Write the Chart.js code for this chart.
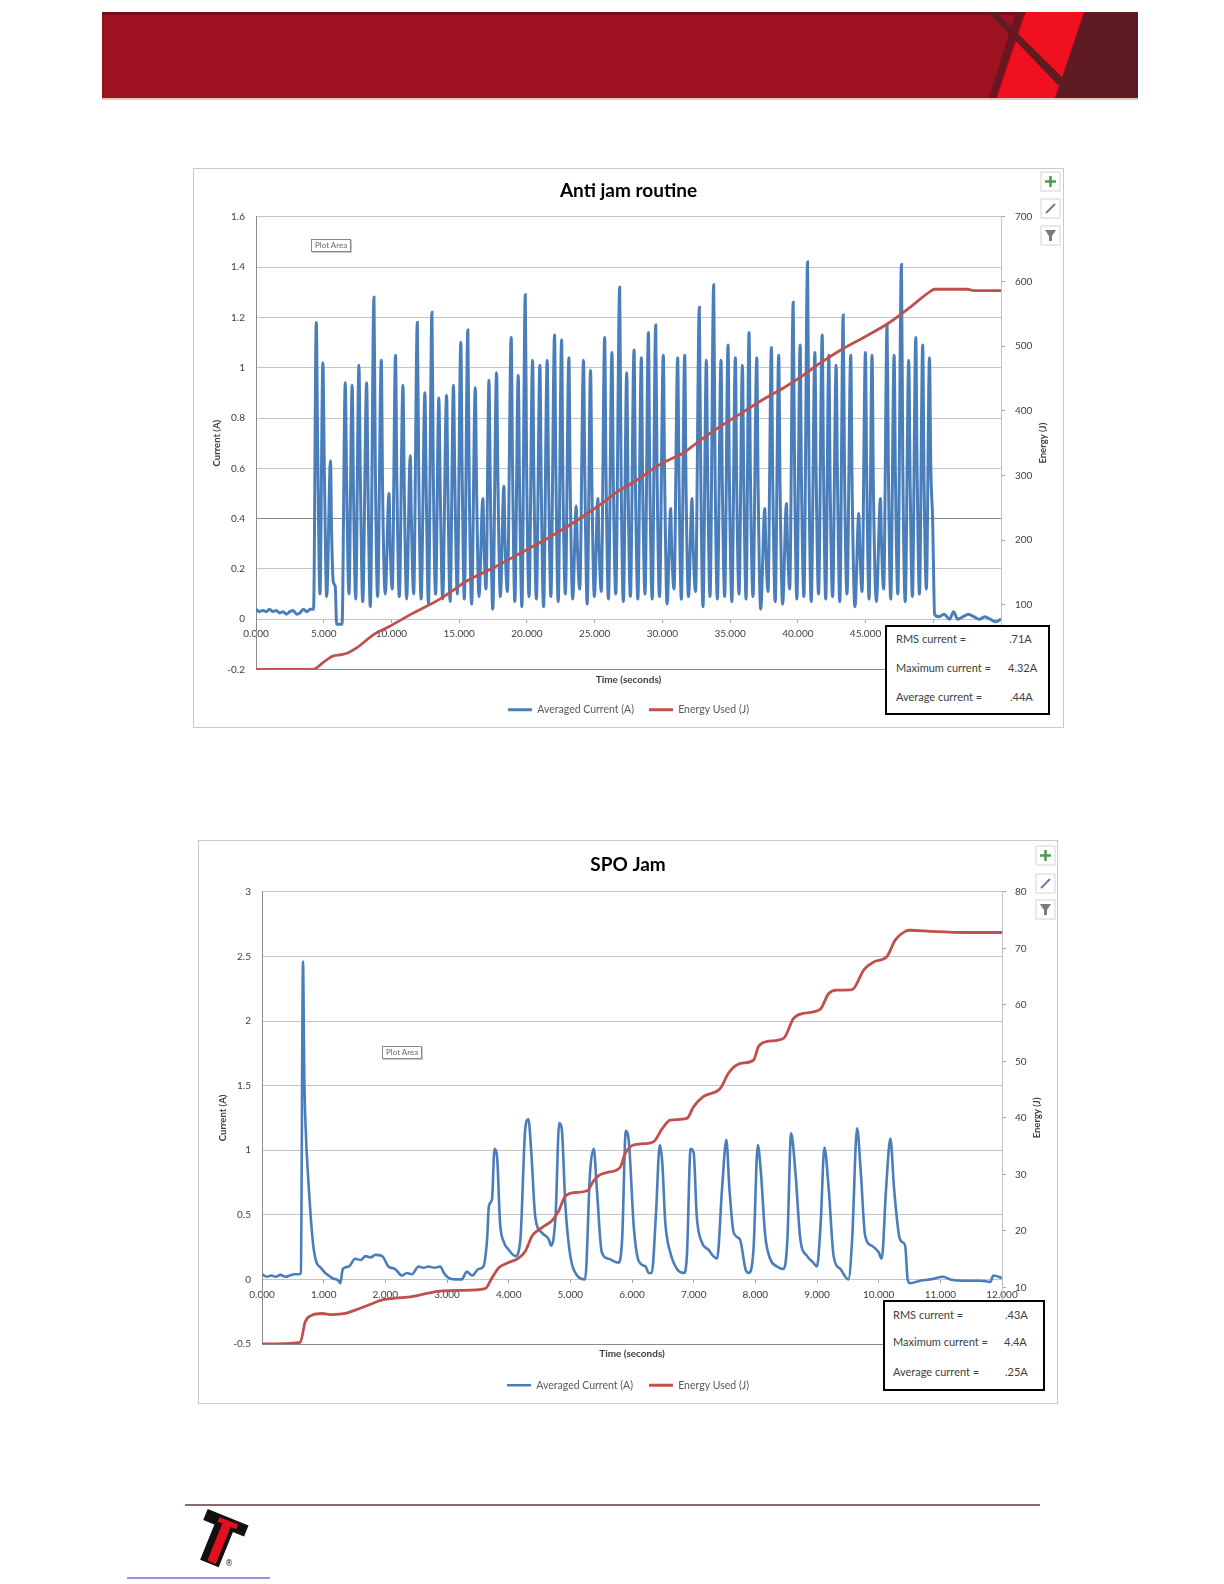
<!DOCTYPE html>
<html>
<head>
<meta charset="utf-8">
<script src="https://cdn.jsdelivr.net/npm/chart.js@4.4.1/dist/chart.umd.min.js"></script>
<style>
body { margin: 0; background: #fff; }
#page { position: relative; width: 1224px; height: 1584px; overflow: hidden; font-family: Lato, 'Open Sans', sans-serif; }
.frame { position: absolute; box-shadow: 0 0 0 1px #cacaca; background: #fff; }
.frame canvas { position: absolute; left: 0; top: 0; }
.stats { position: absolute; border: 2px solid #000; background: #fff; box-sizing: border-box; font-size: 11px; color: #404040; }
.stats span { position: absolute; white-space: nowrap; line-height: 12px; }
.tip { position: absolute; border: 1px solid #8a8a8a; background: #fff; font-size: 8px; color: #666; padding: 0 3px; line-height: 11px; box-shadow: 1px 1px 0 #c8c8c8; }
#deco { position: absolute; left: 0; top: 0; pointer-events: none; }
</style>
</head>
<body>
<div id="page">
  <div class="frame" style="left:194px; top:169px; width:869px; height:558px;">
    <canvas id="antiChart" width="869" height="558"></canvas>
  </div>
  <div class="frame" style="left:199px; top:841px; width:858px; height:562px;">
    <canvas id="spoChart" width="858" height="562"></canvas>
  </div>

  <div class="tip" style="left:311px; top:239px;">Plot Area</div>
  <div class="tip" style="left:382px; top:1046px;">Plot Area</div>

  <div class="stats" style="left:885px; top:625px; width:165px; height:90px;">
    <span style="left:9px; top:6px;">RMS current =</span><span style="left:122px; top:6px;">.71A</span>
    <span style="left:9px; top:35px;">Maximum current =</span><span style="left:121px; top:35px;">4.32A</span>
    <span style="left:9px; top:64px;">Average current =</span><span style="left:123px; top:64px;">.44A</span>
  </div>
  <div class="stats" style="left:883px; top:1300px; width:162px; height:91px;">
    <span style="left:8px; top:7px;">RMS current =</span><span style="left:120px; top:7px;">.43A</span>
    <span style="left:8px; top:34px;">Maximum current =</span><span style="left:119px; top:34px;">4.4A</span>
    <span style="left:8px; top:64px;">Average current =</span><span style="left:120px; top:64px;">.25A</span>
  </div>

  <svg id="deco" width="1224" height="1584">
    <!-- header band -->
    <rect x="102" y="12" width="1036" height="86" fill="#9d1121"/>
    <rect x="102" y="12" width="1036" height="3" fill="#7a0c17"/>
    <rect x="102" y="98" width="1036" height="2" fill="#e7c4c6"/>
    <polygon points="1084,12 1138,12 1138,98 1055,98" fill="#5f1b22"/>
    <polygon points="1026,12 1084,12 1055,98 997,98" fill="#f0101f"/>
    <polygon points="988,12 996,12 1063,78 1059,86" fill="#5f1b22"/>
    <polygon points="1016,12 1024,12 996,98 989,98" fill="#6a1520"/>

    <!-- excel chart buttons -->
    <g fill="#fff" stroke="#d4d4d4">
      <rect x="1041" y="172" width="19" height="19"/>
      <rect x="1041" y="199" width="19" height="19"/>
      <rect x="1041" y="226" width="19" height="19"/>
      <rect x="1036" y="846" width="19" height="19"/>
      <rect x="1036" y="874" width="19" height="19"/>
      <rect x="1036" y="900" width="19" height="19"/>
    </g>
    <path d="M1050.5 176v11M1045 181.5h11M1045.5 850v11M1040 855.5h11" stroke="#4c9a4c" stroke-width="2.5"/>
    <path d="M1046 213l9-9M1041 888l9-9" stroke="#6b7f99" stroke-width="2"/>
    <polygon points="1045,230 1056,230 1052,236 1052,241 1049,241 1049,236" fill="#7a7a7a"/>
    <polygon points="1040,904 1051,904 1047,910 1047,915 1044,915 1044,910" fill="#7a7a7a"/>

    <!-- footer -->
    <line x1="185" y1="1505" x2="1040" y2="1505" stroke="#5a3c3c" stroke-width="1.5"/>
    <g transform="translate(227,1520) rotate(22)">
      <rect x="-22" y="-3" width="44" height="12" fill="#111"/>
      <rect x="-10" y="0" width="20" height="47" fill="#111"/>
      <rect x="-3" y="3" width="9" height="42" fill="#e3111f"/>
      <rect x="-8" y="0" width="20" height="5" fill="#e3111f"/>
    </g>
    <text x="225" y="1566" font-size="8" font-family="DejaVu Sans" fill="#222">®</text>
    <line x1="127" y1="1578" x2="270" y2="1578" stroke="#2a2ab8" stroke-width="1"/>
  </svg>
</div>

<script>
// ---- Anti jam routine: [time s, value] ----
const antiCurrent = [
  [0.00,0.04],[0.25,0.03],[0.50,0.035],[0.75,0.03],[1.00,0.04],[1.25,0.03],[1.50,0.035],[1.75,0.025],
  [2.00,0.03],[2.25,0.02],[2.50,0.03],[2.75,0.035],[3.00,0.02],[3.25,0.025],[3.50,0.04],[3.75,0.03],
  [4.00,0.04],[4.25,0.04],
  [4.45,1.18],[4.55,0.70],[4.72,0.10],
  [4.94,1.02],[5.04,0.62],[5.22,0.09],
  [5.50,0.63],[5.58,0.35],[5.70,0.15],[5.85,0.13],[5.95,-0.02],[6.35,-0.02],
  [6.59,0.94],[6.69,0.55],[6.86,0.10],
  [7.10,0.93],[7.20,0.50],[7.36,0.08],
  [7.60,1.01],[7.70,0.58],[7.88,0.07],
  [8.17,0.94],[8.27,0.52],[8.44,0.05],
  [8.71,1.28],[8.81,0.60],[8.98,0.09],
  [9.25,1.03],[9.35,0.50],[9.54,0.10],
  [9.82,0.50],[9.90,0.30],[10.06,0.12],
  [10.30,1.05],[10.40,0.55],[10.58,0.09],
  [10.85,0.93],[10.95,0.50],[11.12,0.08],
  [11.39,0.65],[11.47,0.40],[11.64,0.10],
  [11.91,1.18],[12.01,0.60],[12.19,0.08],
  [12.47,0.90],[12.57,0.50],[12.73,0.06],
  [12.99,1.22],[13.09,0.58],[13.26,0.10],
  [13.50,0.88],[13.60,0.52],[13.78,0.08],
  [14.07,0.89],[14.17,0.50],[14.33,0.07],
  [14.58,0.93],[14.68,0.55],[14.86,0.10],
  [15.12,1.10],[15.22,0.58],[15.38,0.08],
  [15.64,1.15],[15.74,0.55],[15.92,0.06],
  [16.19,0.92],[16.29,0.50],[16.46,0.09],
  [16.75,0.48],[16.83,0.30],[16.98,0.12],
  [17.20,0.95],[17.30,0.52],[17.48,0.04],
  [17.76,0.98],[17.86,0.55],[18.04,0.09],
  [18.30,0.53],[18.38,0.32],[18.56,0.11],
  [18.84,1.12],[18.94,0.60],[19.11,0.07],
  [19.36,0.97],[19.46,0.52],[19.63,0.05],
  [19.88,1.29],[19.98,0.60],[20.16,0.09],
  [20.42,1.03],[20.52,0.55],[20.70,0.08],
  [20.96,1.01],[21.06,0.52],[21.23,0.05],
  [21.50,1.03],[21.60,0.55],[21.77,0.09],
  [22.04,1.13],[22.14,0.58],[22.31,0.07],
  [22.56,1.11],[22.66,0.55],[22.84,0.10],
  [23.10,1.04],[23.20,0.52],[23.38,0.08],
  [23.64,0.45],[23.72,0.30],[23.90,0.12],
  [24.18,1.03],[24.28,0.55],[24.45,0.06],
  [24.70,0.99],[24.80,0.52],[24.98,0.09],
  [25.24,0.48],[25.32,0.30],[25.49,0.11],
  [25.74,1.12],[25.84,0.58],[26.02,0.08],
  [26.28,1.06],[26.38,0.55],[26.56,0.10],
  [26.85,1.32],[26.95,0.60],[27.12,0.07],
  [27.37,0.98],[27.47,0.52],[27.64,0.09],
  [27.91,1.07],[28.01,0.55],[28.19,0.08],
  [28.45,1.04],[28.55,0.52],[28.72,0.10],
  [28.97,1.14],[29.07,0.58],[29.25,0.08],
  [29.51,1.17],[29.61,0.58],[29.79,0.09],
  [30.07,1.05],[30.17,0.55],[30.35,0.06],
  [30.61,0.44],[30.69,0.28],[30.86,0.12],
  [31.13,1.04],[31.23,0.55],[31.40,0.08],
  [31.65,1.05],[31.75,0.52],[31.93,0.09],
  [32.19,0.48],[32.27,0.30],[32.45,0.11],
  [32.73,1.24],[32.83,0.60],[33.00,0.05],
  [33.25,1.03],[33.35,0.55],[33.52,0.09],
  [33.79,1.33],[33.89,0.60],[34.06,0.08],
  [34.33,1.03],[34.43,0.52],[34.60,0.09],
  [34.85,1.09],[34.95,0.55],[35.13,0.07],
  [35.39,1.04],[35.49,0.52],[35.66,0.10],
  [35.91,1.01],[36.01,0.55],[36.18,0.08],
  [36.40,1.14],[36.50,0.58],[36.69,0.09],
  [36.97,1.04],[37.07,0.52],[37.26,0.04],
  [37.56,0.44],[37.64,0.28],[37.80,0.11],
  [38.05,1.08],[38.15,0.55],[38.33,0.07],
  [38.59,1.05],[38.69,0.52],[38.88,0.06],
  [39.16,0.46],[39.24,0.30],[39.40,0.12],
  [39.66,1.26],[39.76,0.60],[39.93,0.08],
  [40.17,1.09],[40.27,0.55],[40.45,0.09],
  [40.72,1.42],[40.82,0.62],[40.99,0.07],
  [41.26,1.06],[41.36,0.55],[41.53,0.10],
  [41.80,1.13],[41.90,0.58],[42.06,0.08],
  [42.29,1.05],[42.39,0.52],[42.57,0.09],
  [42.83,1.01],[42.93,0.55],[43.10,0.07],
  [43.35,1.21],[43.45,0.58],[43.63,0.10],
  [43.91,1.05],[44.01,0.52],[44.22,0.05],
  [44.50,0.42],[44.58,0.28],[44.74,0.11],
  [44.99,1.06],[45.09,0.55],[45.26,0.08],
  [45.48,1.05],[45.58,0.52],[45.80,0.07],
  [46.10,0.48],[46.18,0.30],[46.34,0.12],
  [46.59,1.17],[46.69,0.58],[46.86,0.08],
  [47.11,1.05],[47.21,0.55],[47.38,0.10],
  [47.65,1.41],[47.75,0.62],[47.93,0.07],
  [48.19,1.03],[48.29,0.55],[48.46,0.09],
  [48.71,1.12],[48.81,0.58],[48.98,0.10],
  [49.22,1.09],[49.32,0.55],[49.49,0.12],
  [49.72,1.04],[49.82,0.60],[49.95,0.40],[50.10,0.02],
  [50.40,0.01],[50.80,0.02],[51.20,0.00],[51.50,0.03],[51.80,0.00],[52.20,0.01],[52.60,0.02],
  [53.00,0.01],[53.40,0.00],[53.80,0.01],[54.20,0.00],[54.60,-0.01],[55.00,0.00]
];
const antiEnergy = [
  [0,0],[4.2,0],[4.5,3],[4.9,10],[5.3,16],[5.7,21],[6.3,23],[6.8,26],[7.4,33],[8.76,55],[9.8,66],
  [11.5,86],[13.5,108],[14.66,124],[15.4,135],[17.6,158],[19.7,182],[21.7,205],[23.8,232],[25.74,260],
  [26.48,272],[27.9,290],[29.9,318],[31.1,330],[31.65,336],[32.2,345],[34.0,372],[36.1,400],[37.56,419],
  [39.0,436],[40.2,452],[41.73,475],[43.33,496],[45.0,515],[46.65,535],[48.4,562],[49.73,584],[50.1,588],
  [52.5,588],[53.0,586],[55,586]
];
const antiTime = [0, 55, 5];        // min, max, step (s)
const antiCurrentAxis = [-0.2, 1.6, 0.2];
const antiEnergyAxis = [0, 700, 100];

// ---- SPO Jam ----
const spoCurrent = [
  [0.00,0.04],[0.08,0.02],[0.15,0.03],[0.22,0.02],[0.30,0.035],[0.38,0.02],[0.45,0.03],[0.52,0.04],
  [0.60,0.04],[0.63,0.05],[0.665,2.46],[0.685,1.60],[0.70,1.27],[0.76,0.70],[0.84,0.23],[0.97,0.08],
  [1.14,0.01],[1.24,-0.01],[1.27,-0.03],[1.31,0.08],[1.41,0.10],[1.51,0.16],[1.60,0.15],[1.68,0.18],
  [1.76,0.17],[1.84,0.19],[1.95,0.18],[2.05,0.10],[2.16,0.08],[2.27,0.03],[2.35,0.05],[2.43,0.04],
  [2.54,0.10],[2.62,0.09],[2.70,0.10],[2.80,0.09],[2.89,0.10],[2.95,0.05],[3.03,0.01],[3.13,0.00],
  [3.24,0.00],[3.32,0.06],[3.41,0.03],[3.51,0.08],[3.59,0.10],[3.65,0.31],[3.68,0.57],[3.73,0.62],
  [3.77,1.01],[3.81,0.96],[3.86,0.44],[3.92,0.29],[4.00,0.23],[4.11,0.18],[4.19,0.31],[4.27,1.17],
  [4.32,1.24],[4.37,0.96],[4.43,0.49],[4.54,0.36],[4.65,0.31],[4.69,0.26],[4.76,0.49],[4.82,1.21],
  [4.86,1.17],[4.92,0.57],[5.00,0.18],[5.11,0.03],[5.24,0.00],[5.32,0.83],[5.38,1.01],[5.43,0.70],
  [5.51,0.21],[5.62,0.16],[5.78,0.13],[5.84,0.31],[5.90,1.15],[5.95,1.06],[6.03,0.40],[6.11,0.14],
  [6.22,0.10],[6.27,0.05],[6.32,0.05],[6.39,0.52],[6.45,1.04],[6.49,0.91],[6.54,0.44],[6.62,0.21],
  [6.73,0.08],[6.84,0.05],[6.89,0.18],[6.95,1.01],[7.00,0.98],[7.05,0.49],[7.13,0.29],[7.24,0.23],
  [7.32,0.18],[7.38,0.16],[7.46,0.70],[7.53,1.08],[7.58,0.70],[7.65,0.36],[7.75,0.31],[7.84,0.08],
  [7.89,0.05],[7.97,0.23],[8.04,1.04],[8.09,0.83],[8.16,0.34],[8.24,0.16],[8.35,0.10],[8.46,0.08],
  [8.52,0.31],[8.58,1.13],[8.65,0.83],[8.73,0.31],[8.84,0.18],[8.94,0.13],[9.00,0.10],[9.06,0.44],
  [9.12,1.02],[9.19,0.70],[9.27,0.18],[9.38,0.08],[9.51,0.00],[9.57,0.31],[9.65,1.17],[9.71,0.83],
  [9.78,0.34],[9.89,0.26],[10.00,0.21],[10.05,0.16],[10.12,0.70],[10.19,1.09],[10.25,0.70],[10.33,0.34],
  [10.38,0.29],[10.43,0.26],[10.47,0.00],[10.51,-0.03],[10.67,-0.01],[10.84,0.00],[11.05,0.02],
  [11.16,0.00],[11.38,-0.01],[11.65,-0.01],[11.81,-0.02],[11.86,0.03],[12.00,0.01]
];
const spoEnergy = [
  [0,0],[0.62,0.3],[0.70,3.9],[0.81,5.1],[0.97,5.4],[1.14,5.2],[1.35,5.4],[1.51,6.0],[1.73,6.9],
  [1.95,7.8],[2.16,8.1],[2.43,8.4],[2.70,9.0],[2.92,9.4],[3.24,9.5],[3.62,9.8],[3.73,11.7],[3.84,13.5],
  [4.00,14.4],[4.16,15.2],[4.27,16.4],[4.38,19.1],[4.54,20.6],[4.70,21.8],[4.81,23.5],[4.92,26.2],
  [5.08,26.8],[5.27,27.1],[5.38,28.9],[5.46,29.8],[5.62,30.4],[5.81,31.3],[5.89,33.7],[6.00,35.1],
  [6.14,35.4],[6.35,35.8],[6.49,38.1],[6.62,39.6],[6.89,39.9],[7.00,42.0],[7.16,43.8],[7.43,45.2],
  [7.57,48.0],[7.75,49.6],[7.97,50.2],[8.05,52.6],[8.18,53.5],[8.46,54.1],[8.62,57.6],[8.78,58.5],
  [9.05,59.2],[9.19,62.0],[9.32,62.6],[9.57,62.7],[9.76,66.2],[9.92,67.6],[10.13,68.5],[10.27,71.5],
  [10.43,73.0],[10.51,73.2],[10.84,73.0],[11.38,72.8],[12.00,72.8]
];
const spoTime = [0, 12, 1];
const spoCurrentAxis = [-0.5, 3, 0.5];
const spoEnergyAxis = [0, 80, 10];

const blue = '#4a7ebb';
const red = '#c0504d';
Chart.defaults.font.family = "Lato, 'Open Sans', sans-serif";
Chart.defaults.color = '#404040';

// right hand axis title, reading bottom to top like the left one
const sideTitle = {
    id: 'sideTitle',
    afterDraw(chart, args, opts) {
        const ctx = chart.ctx;
        const area = chart.chartArea;
        ctx.save();
        ctx.translate(opts.x, (area.top + area.bottom) / 2);
        ctx.rotate(-Math.PI / 2);
        ctx.font = "bold 9.5px Lato, 'Open Sans', sans-serif";
        ctx.fillStyle = '#404040';
        ctx.textAlign = 'center';
        ctx.textBaseline = 'middle';
        ctx.fillText(opts.text, 0, 0);
        ctx.restore();
    }
};

const pts = arr => arr.map(p => ({x: p[0], y: p[1]}));
const near = (a, b) => Math.abs(a - b) < 1e-6;

function makeChart(id, o) {
    return new Chart(document.getElementById(id), {
        type: 'line',
        data: {
            datasets: [{
                label: 'Averaged Current (A)',
                data: pts(o.current),
                borderColor: blue,
                backgroundColor: blue,
                borderWidth: o.blueWidth,
                pointRadius: 0,
                cubicInterpolationMode: 'monotone',
                xAxisID: 'x',
                yAxisID: 'y',
                order: 2
            }, {
                label: 'Energy Used (J)',
                data: pts(o.energy),
                borderColor: red,
                backgroundColor: red,
                borderWidth: 2.8,
                pointRadius: 0,
                cubicInterpolationMode: 'monotone',
                xAxisID: 'x',
                yAxisID: 'y2',
                order: 1
            }]
        },
        plugins: [sideTitle],
        options: {
            responsive: false,
            animation: false,
            events: [],
            layout: {padding: {left: 0, right: 0, top: 0, bottom: o.padBottom}},
            plugins: {
                title: {
                    display: true,
                    text: o.title,
                    color: '#000',
                    font: {size: 19, weight: 'bold'},
                    padding: o.titlePad
                },
                legend: {
                    position: 'bottom',
                    labels: {
                        usePointStyle: true,
                        pointStyle: 'line',
                        pointStyleWidth: 24,
                        boxHeight: 10,
                        padding: o.legendPad,
                        color: '#595959',
                        font: {size: 10.5},
                        sort: (a, b) => a.datasetIndex - b.datasetIndex
                    }
                },
                tooltip: {enabled: false},
                sideTitle: {text: 'Energy (J)', x: o.sideX}
            },
            scales: {
                x: {
                    axis: 'x',
                    type: 'linear',
                    position: 'bottom',
                    min: o.time[0],
                    max: o.time[1],
                    ticks: {display: false},
                    grid: {display: false},
                    border: {display: false},
                    title: {display: true, text: 'Time (seconds)', font: {size: 10, weight: 'bold'}, padding: {top: 0, bottom: 4}},
                    afterFit: s => { s.height = 20; }
                },
                xt: {
                    axis: 'x',
                    type: 'linear',
                    position: {y: 0},
                    min: o.time[0],
                    max: o.time[1],
                    ticks: {stepSize: o.time[2], maxRotation: 0, autoSkip: false, padding: 5, font: {size: 10},
                        callback: v => v.toFixed(3)},
                    grid: {drawOnChartArea: false, drawTicks: true, tickLength: 4, color: '#a6a6a6'},
                    border: {display: false}
                },
                y: {
                    axis: 'y',
                    type: 'linear',
                    position: 'left',
                    min: o.cur[0],
                    max: o.cur[1],
                    ticks: {stepSize: o.cur[2], padding: 11, font: {size: 10},
                        callback: v => String(Math.round(v * 100) / 100)},
                    grid: {
                        drawTicks: false,
                        color: c => (c.tick && o.darkLines.some(d => near(d, c.tick.value))) ? '#8c8c8c' : '#c4c4c4'
                    },
                    border: {display: true, color: '#8c8c8c'},
                    title: {display: true, text: 'Current (A)', font: {size: 9.5, weight: 'bold'}, padding: {top: o.leftTitlePad, bottom: 0}},
                    afterFit: s => { s.width = o.leftW; }
                },
                y2: {
                    axis: 'y',
                    type: 'linear',
                    position: 'right',
                    min: o.en[0],
                    max: o.en[1],
                    ticks: {stepSize: o.en[2], padding: o.rightPad, font: {size: 10}},
                    grid: {drawOnChartArea: false, drawTicks: true, tickLength: 4, color: '#a6a6a6'},
                    border: {display: true, color: '#c4c4c4'},
                    afterFit: s => { s.width = o.rightW; }
                }
            }
        }
    });
}

makeChart('antiChart', {
    title: 'Anti jam routine',
    current: antiCurrent,
    energy: antiEnergy,
    time: antiTime,
    cur: antiCurrentAxis,
    en: antiEnergyAxis,
    darkLines: [0.4, -0.2],
    blueWidth: 3,
    titlePad: {top: 10, bottom: 15},
    legendPad: 15,
    padBottom: 2,
    leftW: 62,
    rightW: 62,
    leftTitlePad: 17,
    rightPad: 10,
    sideX: 849
});

makeChart('spoChart', {
    title: 'SPO Jam',
    current: spoCurrent,
    energy: spoEnergy,
    time: spoTime,
    cur: spoCurrentAxis,
    en: spoEnergyAxis,
    darkLines: [-0.5],
    blueWidth: 2.6,
    titlePad: {top: 12, bottom: 16},
    legendPad: 16,
    padBottom: 2.5,
    leftW: 63,
    rightW: 55,
    leftTitlePad: 18,
    rightPad: 9,
    sideX: 838
});
</script>
</body>
</html>
